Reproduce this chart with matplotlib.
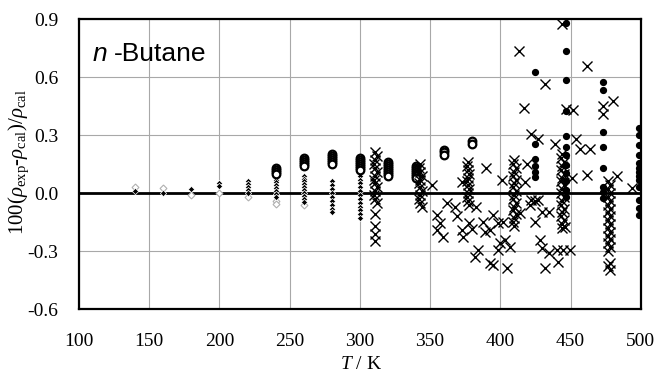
import matplotlib
matplotlib.use("Agg")
import matplotlib.pyplot as plt
import numpy as np

plt.rcParams['font.family'] = ['Liberation Serif', 'DejaVu Serif']
plt.rcParams['mathtext.fontset'] = 'custom'
plt.rcParams['mathtext.rm'] = 'Liberation Serif'
plt.rcParams['mathtext.it'] = 'Liberation Serif:italic'

# small filled diamonds (low temperature data)
dia_T = [140, 160, 180, 200, 200,
         220, 220, 220, 220, 220,
         240, 240, 240, 240, 240, 240, 240,
         260, 260, 260, 260, 260, 260, 260, 260, 260, 260,
         280, 280, 280, 280, 280, 280, 280, 280, 280,
         300, 300, 300, 300, 300, 300, 300, 300, 300, 300, 300, 300]
dia_v = [0.01, 0.0, 0.022, 0.05, 0.035,
         0.06, 0.045, 0.03, 0.015, 0.0,
         0.07, 0.055, 0.04, 0.025, 0.01, -0.005, -0.02,
         0.09, 0.075, 0.06, 0.045, 0.03, 0.015, 0.0, -0.015, -0.03, -0.045,
         0.06, 0.04, 0.02, 0.0, -0.02, -0.04, -0.06, -0.08, -0.10,
         0.09, 0.07, 0.05, 0.03, 0.01, -0.01, -0.03, -0.05, -0.07, -0.09, -0.11, -0.13]

# light open diamonds
odia_T = [140, 160, 180, 200, 220, 240, 240, 260]
odia_v = [0.03, 0.025, -0.01, 0.0, -0.02, -0.04, -0.055, -0.06]

# open circles
oc_T = [240, 240, 240, 240,
        260, 260, 260, 260, 260,
        280, 280, 280, 280, 280, 280,
        300, 300, 300, 300, 300, 300, 300,
        320, 320, 320, 320, 320, 320, 320, 320,
        340, 340, 340, 340, 340, 340, 340,
        360, 360, 360,
        380, 380]
oc_v = [0.13, 0.12, 0.11, 0.10,
        0.18, 0.17, 0.16, 0.15, 0.14,
        0.20, 0.19, 0.18, 0.17, 0.16, 0.15,
        0.18, 0.17, 0.16, 0.15, 0.14, 0.13, 0.12,
        0.16, 0.15, 0.14, 0.13, 0.12, 0.11, 0.10, 0.09,
        0.14, 0.13, 0.12, 0.11, 0.10, 0.09, 0.08,
        0.225, 0.21, 0.195,
        0.27, 0.255]

# filled circles
fc_T = [425, 425, 425, 425, 425, 425,
        447, 447, 447, 447, 447, 447, 447, 447, 447, 447, 447, 447,
        473, 473, 473, 473, 473, 473, 473, 473,
        499, 499, 499, 499, 499, 499, 499, 499, 499, 499, 499, 499, 499]
fc_v = [0.626, 0.253, 0.176, 0.14, 0.109, 0.083,
        0.88, 0.735, 0.585, 0.424, 0.295, 0.238, 0.197, 0.145, 0.103, 0.06, 0.016, -0.02,
        0.574, 0.533, 0.316, 0.238, 0.13, 0.03, 0.005, -0.026,
        0.336, 0.30, 0.25, 0.197, 0.155, 0.13, 0.109, 0.09, 0.067, 0.03, -0.036, -0.078, -0.114]

# crosses, isotherm columns
xc_T = [311, 312, 311, 310, 311, 312, 311, 310, 311, 312, 311, 310, 311, 312, 311, 311, 311, 311,
        343, 342, 343, 344, 343, 342, 343, 344, 343, 342, 343, 344,
        377, 376, 377, 378, 377, 376, 377, 378, 377, 376, 377, 378,
        410, 409, 411, 410, 409, 411, 410, 409, 411, 410, 409, 411, 410, 409, 411, 410, 409, 410,
        444, 443, 445, 444, 443, 445, 444, 443, 445, 444, 443, 445, 444, 443, 445, 444, 443, 445, 444, 444,
        477, 478, 477, 478, 477, 478, 477, 478, 477, 478, 477, 478, 477, 478, 477, 478, 477, 478, 477, 478, 477, 478]
xc_v = [0.21, 0.19, 0.17, 0.15, 0.13, 0.11, 0.09, 0.07, 0.05, 0.03, 0.01, -0.01, -0.03, -0.05, -0.11, -0.17, -0.21, -0.25,
        0.15, 0.13, 0.11, 0.09, 0.07, 0.05, 0.03, 0.01, -0.01, -0.03, -0.05, -0.07,
        0.16, 0.14, 0.12, 0.10, 0.08, 0.06, 0.04, 0.02, 0.0, -0.02, -0.04, -0.06,
        0.17, 0.15, 0.13, 0.11, 0.09, 0.07, 0.05, 0.03, 0.01, -0.01, -0.03, -0.05, -0.07, -0.09, -0.11, -0.13, -0.15, -0.17,
        0.20, 0.18, 0.16, 0.14, 0.12, 0.10, 0.08, 0.06, 0.04, 0.02, 0.0, -0.02, -0.04, -0.06, -0.08, -0.10, -0.12, -0.14, -0.16, -0.18,
        0.06, 0.04, 0.02, 0.0, -0.02, -0.04, -0.06, -0.08, -0.10, -0.12, -0.14, -0.16, -0.18, -0.20, -0.22, -0.24, -0.26, -0.28, -0.30, -0.36, -0.38, -0.40]

# crosses, scattered
xs_T = [443.8, 413, 462, 432, 416.7, 446.6, 451.6, 473, 473, 480,
        421.7, 426.7, 438.8, 454, 457, 463.7, 390, 401, 419, 417.5,
        462, 483, 494, 351, 373, 354.8, 357, 359, 355, 367.6,
        369, 372.6, 373.3, 378, 380, 383, 384, 382, 387.5, 389,
        394.7, 392.5, 392.5, 394.7, 398, 399.6, 403, 406.8, 404.6, 398,
        402, 414, 421, 424.5, 426.7, 430, 435, 428, 430, 435,
        440, 444.5, 449.5, 441, 431.7, 446, 422, 425, 451, 362]
xs_v = [0.875, 0.735, 0.655, 0.564, 0.44, 0.435, 0.43, 0.45, 0.41, 0.476,
        0.305, 0.28, 0.255, 0.28, 0.23, 0.23, 0.13, 0.067, 0.15, 0.057,
        0.095, 0.09, 0.026, 0.04, 0.057, -0.114, -0.155, -0.23, -0.19, -0.072,
        -0.12, -0.19, -0.228, -0.155, -0.186, -0.07, -0.295, -0.33, -0.15, -0.2,
        -0.114, -0.19, -0.36, -0.37, -0.295, -0.26, -0.243, -0.28, -0.39, -0.155,
        -0.15, -0.103, -0.062, -0.15, -0.036, -0.1, -0.1, -0.243, -0.285, -0.31,
        -0.295, -0.295, -0.295, -0.357, -0.39, -0.175, -0.036, -0.041, 0.078, -0.05]

fig = plt.figure(figsize=(6.54, 3.75), dpi=100)
ax = fig.add_axes([0.1208, 0.176, 0.859, 0.773])

ax.grid(True, color='#a8a8a8', linewidth=0.8)
ax.set_axisbelow(True)
ax.axhline(0, color='black', linewidth=2.0, zorder=1)

ax.plot(odia_T, odia_v, 'D', ms=3.5, mfc='white', mec='#b0b0b0', mew=0.8, zorder=2)
ax.plot(dia_T, dia_v, 'D', ms=3.2, mfc='black', mec='white', mew=0.5, zorder=3)
ax.plot(oc_T, oc_v, 'o', ms=5.5, mfc='white', mec='black', mew=1.6, zorder=3)
ax.plot(xc_T + xs_T, xc_v + xs_v, 'x', ms=6.5, color='black', mew=1.0, zorder=4)
ax.plot(fc_T, fc_v, 'o', ms=4.2, color='black', zorder=5)

ax.set_xlim(100, 500)
ax.set_ylim(-0.6, 0.9)
ax.set_xticks(np.arange(100, 501, 50))
ax.set_yticks(np.arange(-0.6, 0.91, 0.3))
ax.set_yticklabels(['-0.6', '-0.3', '0.0', '0.3', '0.6', '0.9'])
ax.tick_params(length=0, labelsize=14)
ax.tick_params(axis='x', pad=17)
ax.tick_params(axis='y', pad=15)
for s in ax.spines.values():
    s.set_linewidth(1.6)
    s.set_color('black')

ax.text(0.025, 0.855, 'n', transform=ax.transAxes, fontsize=19,
        family='Liberation Sans', style='italic')
ax.text(0.062, 0.855, '-Butane', transform=ax.transAxes, fontsize=19,
        family='Liberation Sans')

fig.text(0.029, 0.567, r'100($\rho_{\rm exp}$-$\rho_{\rm cal}$)/$\rho_{\rm cal}$',
         rotation=90, ha='center', va='center', fontsize=15)
fig.text(0.552, 0.028, r'$T$ / K', ha='center', va='center', fontsize=14)

fig.savefig('out.png', dpi=100)
